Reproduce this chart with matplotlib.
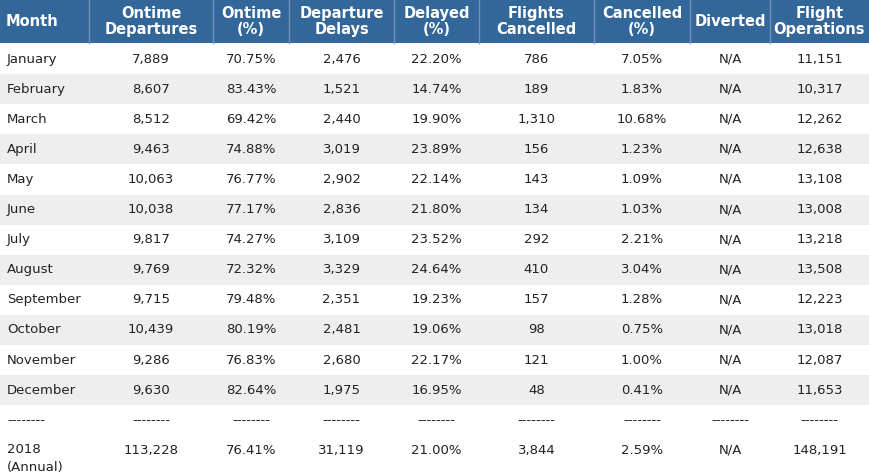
import matplotlib
matplotlib.use("Agg")
import matplotlib.pyplot as plt
from matplotlib.patches import Rectangle

headers = ["Month", "Ontime\nDepartures", "Ontime\n(%)", "Departure\nDelays", "Delayed\n(%)",
           "Flights\nCancelled", "Cancelled\n(%)", "Diverted", "Flight\nOperations"]
months = ["January","February","March","April","May","June","July","August",
          "September","October","November","December"]
ontime = ["7,889","8,607","8,512","9,463","10,063","10,038","9,817","9,769","9,715","10,439","9,286","9,630"]
ontime_pct = ["70.75%","83.43%","69.42%","74.88%","76.77%","77.17%","74.27%","72.32%","79.48%","80.19%","76.83%","82.64%"]
delays = ["2,476","1,521","2,440","3,019","2,902","2,836","3,109","3,329","2,351","2,481","2,680","1,975"]
delayed_pct = ["22.20%","14.74%","19.90%","23.89%","22.14%","21.80%","23.52%","24.64%","19.23%","19.06%","22.17%","16.95%"]
cancelled = ["786","189","1,310","156","143","134","292","410","157","98","121","48"]
cancelled_pct = ["7.05%","1.83%","10.68%","1.23%","1.09%","1.03%","2.21%","3.04%","1.28%","0.75%","1.00%","0.41%"]
diverted = ["N/A"]*12
operations = ["11,151","10,317","12,262","12,638","13,108","13,008","13,218","13,508","12,223","13,018","12,087","11,653"]
annual = ["2018\n(Annual)","113,228","76.41%","31,119","21.00%","3,844","2.59%","N/A","148,191"]

W, H = 869, 474
fig = plt.figure(figsize=(W/100, H/100), dpi=100)
ax = fig.add_axes([0, 0, 1, 1])
ax.set_xlim(0, W); ax.set_ylim(H, 0); ax.axis("off")

edges = [0, 89, 213, 289, 394, 479, 594, 690, 770, 869]
centers = [(edges[i]+edges[i+1])/2 for i in range(9)]
hdr_h = 43
row_h = 30.1

ax.add_patch(Rectangle((0, 0), W, hdr_h, color="#336699", lw=0))
for e in edges[1:-1]:
    ax.plot([e, e], [0, hdr_h], color="#6f93ba", lw=1)
for i, h in enumerate(headers):
    x = 6 if i == 0 else centers[i]
    ax.text(x, hdr_h/2, h, ha="left" if i == 0 else "center", va="center",
            color="white", fontsize=10.5, fontweight="bold", family="DejaVu Sans", linespacing=1.05)

cols = [months, ontime, ontime_pct, delays, delayed_pct, cancelled, cancelled_pct, diverted, operations]
for r in range(12):
    y0 = hdr_h + 1 + r*row_h
    if r % 2 == 1:
        ax.add_patch(Rectangle((0, y0), W, row_h, color="#eeeeee", lw=0))
    for c in range(9):
        x = 7 if c == 0 else centers[c]
        ax.text(x, y0 + row_h/2, cols[c][r], ha="left" if c == 0 else "center", va="center",
                fontsize=9.5, color="#222222")

yd = hdr_h + 1 + 12*row_h + row_h/2
for c in range(9):
    x = 7 if c == 0 else centers[c]
    ax.text(x, yd, "--------", ha="left" if c == 0 else "center", va="center", fontsize=9.5, color="#222222")

ya = yd + 30
for c in range(9):
    if c == 0:
        ax.text(7, ya - 1, "2018", ha="left", va="center", fontsize=9.5, color="#222222")
        ax.text(7, ya + 17, "(Annual)", ha="left", va="center", fontsize=9.5, color="#222222")
    else:
        ax.text(centers[c], ya, annual[c], ha="center", va="center", fontsize=9.5, color="#222222")

fig.savefig("out.png", dpi=100)
